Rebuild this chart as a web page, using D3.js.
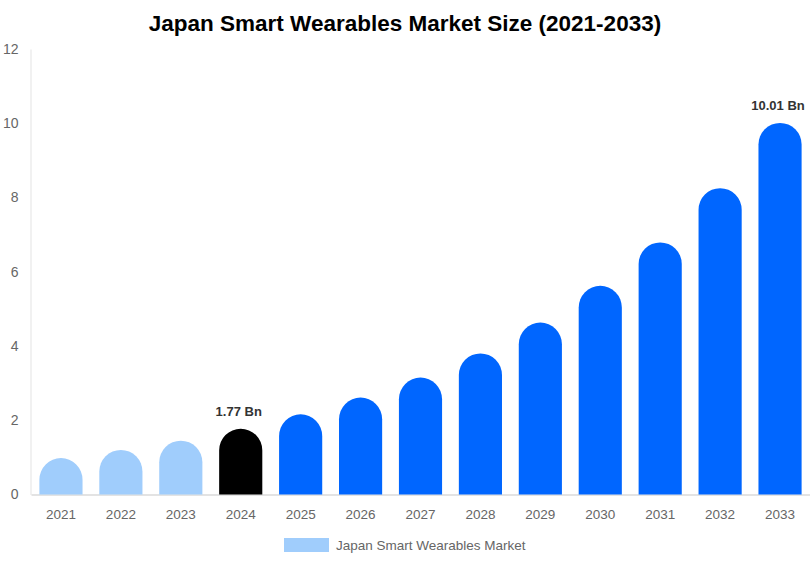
<!DOCTYPE html>
<html>
<head>
<meta charset="utf-8">
<script src="https://cdn.jsdelivr.net/npm/d3@7"></script>
<style>
  body { margin: 0; background: #fff; }
  text { font-family: "Liberation Sans", Arial, sans-serif; }
</style>
</head>
<body>
<div id="chart"></div>
<script>
// data
const years = ['2021','2022','2023','2024','2025','2026','2027','2028','2029','2030','2031','2032','2033'];
const values = [0.98, 1.2, 1.45, 1.77, 2.16, 2.61, 3.15, 3.8, 4.63, 5.62, 6.79, 8.25, 10.01];
const kinds = ['past','past','past','now','fc','fc','fc','fc','fc','fc','fc','fc','fc'];
const yTicks = [0, 2, 4, 6, 8, 10, 12];
const labelled = ['2024', '2033'];

const width = 810, height = 562;
const margin = { top: 49, right: 0, bottom: 67.5, left: 31 };
const colors = { past: '#a0cdfc', now: '#000000', fc: '#0066ff' };

const svg = d3.select('#chart').append('svg')
  .attr('width', width).attr('height', height);

// title
svg.append('text')
  .attr('x', width / 2).attr('y', 31)
  .attr('text-anchor', 'middle')
  .attr('font-size', '22.5px').attr('font-weight', 'bold')
  .attr('fill', '#000')
  .text('Japan Smart Wearables Market Size (2021-2033)');

const x = d3.scaleBand()
  .domain(years)
  .range([margin.left, width - margin.right])
  .paddingInner(0.28).paddingOuter(0.14);

const y = d3.scaleLinear()
  .domain([0, 12])
  .range([height - margin.bottom, margin.top]);

// y axis
const yAxis = svg.append('g')
  .attr('transform', `translate(${margin.left - 0.5},0)`)
  .call(d3.axisLeft(y).tickValues(yTicks).tickSize(0).tickPadding(12));
yAxis.select('.domain').attr('stroke', '#e3e3e3');
yAxis.selectAll('text').attr('font-size', '14px').attr('fill', '#666')
  .style('font-family', '"Liberation Sans", Arial, sans-serif');

// x axis
const xAxis = svg.append('g')
  .attr('transform', `translate(0,${y(0)})`)
  .call(d3.axisBottom(x).tickSize(0).tickPadding(15));
xAxis.select('.domain').attr('stroke', '#e3e3e3').attr('stroke-width', 2);
xAxis.selectAll('text').attr('font-size', '13.5px').attr('fill', '#666')
  .style('font-family', '"Liberation Sans", Arial, sans-serif');

// bars with a rounded top
const bw = x.bandwidth();
const r = bw / 2;
function barPath(year, v) {
  const x0 = x(year), x1 = x0 + bw, yb = y(0), yt = y(v);
  const h = yb - yt;
  const rr = Math.min(r, h);
  return `M${x0},${yb} L${x0},${yt + rr} A${r},${rr} 0 0 1 ${x1},${yt + rr} L${x1},${yb} Z`;
}

svg.append('g')
  .selectAll('path')
  .data(years)
  .join('path')
  .attr('d', (d, i) => barPath(d, values[i]))
  .attr('fill', (d, i) => colors[kinds[i]]);

// value labels
svg.append('g')
  .selectAll('text')
  .data(years.filter(d => labelled.includes(d)))
  .join('text')
  .attr('x', d => x(d) + bw / 2 - 2)
  .attr('y', d => y(values[years.indexOf(d)]) - 13)
  .attr('text-anchor', 'middle')
  .attr('font-size', '13px').attr('font-weight', 'bold')
  .attr('fill', '#333')
  .text(d => values[years.indexOf(d)].toFixed(2) + ' Bn');

// legend
const lg = svg.append('g').attr('transform', 'translate(284,538)');
lg.append('rect').attr('width', 45).attr('height', 14).attr('fill', colors.past);
lg.append('text').attr('x', 52).attr('y', 11.5)
  .attr('font-size', '13.5px').attr('fill', '#666')
  .text('Japan Smart Wearables Market');
</script>
</body>
</html>
